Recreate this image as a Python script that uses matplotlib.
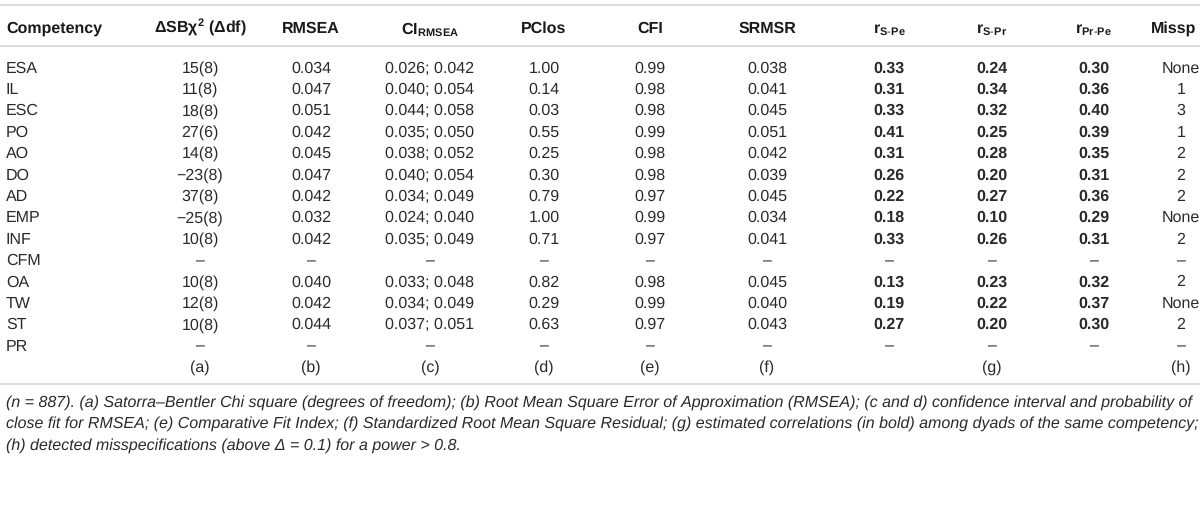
import matplotlib
matplotlib.use('Agg')
from matplotlib import pyplot as plt

plt.rcParams['font.family'] = ['Liberation Sans', 'DejaVu Sans']
plt.rcParams['mathtext.fontset'] = 'custom'
plt.rcParams['mathtext.rm'] = 'Liberation Sans'
plt.rcParams['mathtext.bf'] = 'Liberation Sans:bold'
plt.rcParams['mathtext.it'] = 'Liberation Sans:italic'
plt.rcParams['text.hinting'] = 'no_hinting'
plt.rcParams['text.hinting_factor'] = 1

# Datos de la tabla
competencias = ['ESA', 'IL', 'ESC', 'PO', 'AO', 'DO', 'AD', 'EMP', 'INF',
                'CFM', 'OA', 'TW', 'ST', 'PR']
chi2 = ['15(8)', '11(8)', '18(8)', '27(6)', '14(8)', '\u221223(8)', '37(8)',
        '\u221225(8)', '10(8)', '\u2013', '10(8)', '12(8)', '10(8)', '\u2013']
rmsea = ['0.034', '0.047', '0.051', '0.042', '0.045', '0.047', '0.042',
         '0.032', '0.042', '\u2013', '0.040', '0.042', '0.044', '\u2013']
ci_rmsea = ['0.026; 0.042', '0.040; 0.054', '0.044; 0.058', '0.035; 0.050',
            '0.038; 0.052', '0.040; 0.054', '0.034; 0.049', '0.024; 0.040',
            '0.035; 0.049', '\u2013', '0.033; 0.048', '0.034; 0.049',
            '0.037; 0.051', '\u2013']
pclos = ['1.00', '0.14', '0.03', '0.55', '0.25', '0.30', '0.79', '1.00',
         '0.71', '\u2013', '0.82', '0.29', '0.63', '\u2013']
cfi = ['0.99', '0.98', '0.98', '0.99', '0.98', '0.98', '0.97', '0.99',
       '0.97', '\u2013', '0.98', '0.99', '0.97', '\u2013']
srmsr = ['0.038', '0.041', '0.045', '0.051', '0.042', '0.039', '0.045',
         '0.034', '0.041', '\u2013', '0.045', '0.040', '0.043', '\u2013']
r_s_pe = ['0.33', '0.31', '0.33', '0.41', '0.31', '0.26', '0.22', '0.18',
          '0.33', '\u2013', '0.13', '0.19', '0.27', '\u2013']
r_s_pr = ['0.24', '0.34', '0.32', '0.25', '0.28', '0.20', '0.27', '0.10',
          '0.26', '\u2013', '0.23', '0.22', '0.20', '\u2013']
r_pr_pe = ['0.30', '0.36', '0.40', '0.39', '0.35', '0.31', '0.36', '0.29',
           '0.31', '\u2013', '0.32', '0.37', '0.30', '\u2013']
missp = ['None', '1', '3', '1', '2', '2', '2', 'None', '2', '\u2013', '2',
         'None', '2', '\u2013']

encabezados = ['Competency', '\u0394SB\u03c7$^{\\mathbf{2}}$ (\u0394df)', 'RMSEA',
               r'CI$_{\mathbf{RMSEA}}$', 'PClos', 'CFI', 'SRMSR',
               r'r$_{\mathbf{S\text{-}Pe}}$', r'r$_{\mathbf{S\text{-}Pr}}$',
               r'r$_{\mathbf{Pr\text{-}Pe}}$', 'Missp']
notas = ['', '(a)', '(b)', '(c)', '(d)', '(e)', '(f)', '', '(g)', '', '(h)']

nota_pie = ['(n = 887). (a) Satorra\u2013Bentler Chi square (degrees of freedom); '
            '(b) Root Mean Square Error of Approximation (RMSEA); (c and d) '
            'confidence interval and probability of',
            'close fit for RMSEA; (e) Comparative Fit Index; (f) Standardized '
            'Root Mean Square Residual; (g) estimated correlations (in bold) '
            'among dyads of the same competency;',
            '(h) detected misspecifications (above \u0394 = 0.1) for a power '
            '> 0.8.']

columnas = [competencias, chi2, rmsea, ci_rmsea, pclos, cfi, srmsr,
            r_s_pe, r_s_pr, r_pr_pe, missp]
xcols = [6, 200, 311, 430, 544, 650, 767, 889, 992, 1094, 1181]
x_enc = xcols[:-1] + [1174]

fig = plt.figure(figsize=(12, 5.32), dpi=100)
ax = fig.add_axes([0, 0, 1, 1])
ax.set_xlim(0, 1200)
ax.set_ylim(532, 0)
ax.axis('off')

gris = '#dcdcdc'
texto = '#2a2a2a'
tam = 11.4
ax.axhline(5, color=gris, lw=1.5)
ax.axhline(46, color=gris, lw=1.5)
ax.axhline(384, color=gris, lw=1.5)

y_enc = 33
for i, (h, x) in enumerate(zip(encabezados, x_enc)):
    ha = 'left' if i == 0 else 'center'
    ax.text(x, y_enc, h, ha=ha, va='baseline', fontsize=tam, fontweight='bold',
            color='#1a1a1a')

y0 = 72.5
dy = 21.4
for j in range(len(competencias)):
    y = y0 + j * dy
    for i, (col, x) in enumerate(zip(columnas, xcols)):
        ha = 'left' if i == 0 else 'center'
        negrita = 'bold' if i in (7, 8, 9) and col[j] != '\u2013' else 'normal'
        ax.text(x, y, col[j], ha=ha, va='baseline', fontsize=tam,
                fontweight=negrita, color=texto)

y_notas = y0 + len(competencias) * dy
for n, x in zip(notas, xcols):
    if n:
        ax.text(x, y_notas, n, ha='center', va='baseline', fontsize=tam,
                color=texto)

for k, linea in enumerate(nota_pie):
    ax.text(6, 406.5 + k * 21.5, linea, ha='left', va='baseline', fontsize=tam,
            style='italic', color=texto)

fig.savefig('out.png', dpi=100)
